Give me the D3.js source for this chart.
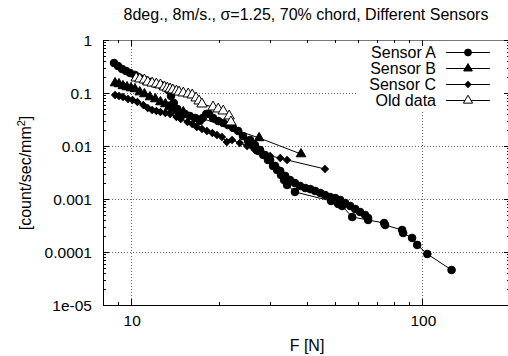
<!DOCTYPE html>
<html>
<head>
<meta charset="utf-8">
<script src="https://cdn.jsdelivr.net/npm/d3@7"></script>
<style>
  body { margin: 0; background: #fff; }
  text { font-family: "Liberation Sans", Arial, sans-serif; fill: #000; }
</style>
</head>
<body>
<div id="chart"></div>
<script>
// Data: [F in N, count/sec/mm^2]
var sensorA = [
  [8.73,0.368],[9.01,0.323],[9.30,0.284],[9.60,0.260],[9.91,0.238],[10.3,0.219],[10.7,0.192],
  [11.1,0.176],[11.6,0.161],[12.1,0.148],[12.6,0.142],[13.1,0.130],[13.4,0.114],[13.7,0.0878],
  [14.0,0.0648],[14.4,0.0499],[14.7,0.0420],[15.3,0.0402],[15.9,0.0368],[16.6,0.0338],[17.2,0.0296],
  [17.6,0.0338],[18.1,0.0402],[18.5,0.0402],[19.1,0.0338],[19.9,0.0296],[20.7,0.0272],[21.5,0.0249],
  [22.4,0.0219],[23.3,0.0192],[24.2,0.0154],[25.2,0.0124],[26.2,0.0100],[27.3,0.00805],[28.4,0.00677],
  [29.5,0.00545],[30.7,0.00420],[31.7,0.00353],[32.7,0.00284],[33.5,0.00228],[34.3,0.00184],
  [36.5,0.00136],[48.6,0.000917],[51.4,0.000805],[53.0,0.000738],[57.4,0.000457],[65.1,0.000402],
  [73.9,0.000352],[74.5,0.000323],[85.2,0.000260],[85.9,0.000228],[92.2,0.000184],[96.0,0.000136],
  [104,0.0000917],[126,0.0000457]
];
// second data block of sensor A (separate run, not joined to the first)
var sensorA2 = [
  [25.6,0.0130],[26.6,0.0104],[27.7,0.00841],[28.8,0.00677],[30.0,0.00545],[31.2,0.00420],
  [32.5,0.00338],[33.8,0.00272],[35.1,0.00228],[36.5,0.00200],[38.0,0.00176],[39.6,0.00161],
  [41.2,0.00154],[42.8,0.00142],[44.6,0.00130],[46.3,0.00119],[48.2,0.00109],[50.2,0.00104],
  [52.2,0.000957],[54.3,0.000841],[56.5,0.000738],[58.8,0.000648],[61.1,0.000569],[63.6,0.000499],
  [65.1,0.000438]
];
var sensorB = [
  [8.80,0.154],[9.08,0.148],[9.37,0.136],[9.67,0.130],[9.98,0.124],[10.3,0.119],[10.7,0.104],
  [11.1,0.0958],[11.6,0.0840],[12.1,0.0770],[12.6,0.0677],[13.1,0.0620],[13.5,0.0544],[13.9,0.0499],
  [14.4,0.0457],[15.1,0.0438],[27.5,0.0142],[38.3,0.00706]
];
var sensorC = [
  [8.80,0.0917],[9.08,0.0878],[9.37,0.0840],[9.75,0.0770],[10.1,0.0738],[10.5,0.0677],[11.0,0.0594],
  [11.4,0.0521],[11.8,0.0478],[12.2,0.0457],[12.6,0.0438],[13.1,0.0420],[13.6,0.0402],[14.3,0.0352],
  [14.8,0.0323],[15.6,0.0284],[16.2,0.0260],[16.8,0.0228],[17.5,0.0209],[18.2,0.0192],[19.0,0.0176],
  [19.7,0.0161],[20.5,0.0148],[21.3,0.0119],[22.2,0.0130],[23.6,0.0114],[25.0,0.0100],[26.6,0.00841],
  [28.2,0.00738],[30.0,0.00648],[32.5,0.00594],[34.3,0.00545],[46.3,0.00368]
];
var oldData = [
  [10.4,0.192],[10.7,0.184],[11.1,0.176],[11.4,0.161],[11.8,0.154],[12.2,0.148],[12.6,0.142],
  [13.0,0.130],[13.3,0.124],[13.6,0.119],[13.9,0.114],[14.3,0.109],[14.6,0.104],[15.1,0.100],
  [15.7,0.0958],[16.2,0.0917],[16.7,0.0805],[17.1,0.0706],[17.5,0.0620],[19.1,0.0544],[19.9,0.0499],
  [20.7,0.0457],[21.7,0.0368],[22.0,0.0284]
];

var seriesNames = ["Sensor A", "Sensor B", "Sensor C", "Old data"];
var xTickValues = [10, 100];
var yTickValues = [1, 0.1, 0.01, 0.001, 0.0001, 0.00001];
var yTickLabels = ["1", "0.1", "0.01", "0.001", "0.0001", "1e-05"];

var width = 508, height = 356;
var plot = {left: 103, right: 510, top: 40, bottom: 305};

var svg = d3.select("#chart").append("svg")
    .attr("width", width)
    .attr("height", height);

var x = d3.scaleLog().domain([8, 200]).range([plot.left, plot.right]);
var y = d3.scaleLog().domain([1e-5, 1]).range([plot.bottom, plot.top]);

// grid
var grid = svg.append("g")
    .attr("stroke", "#666")
    .attr("stroke-width", 1)
    .attr("stroke-dasharray", "1,2")
    .attr("shape-rendering", "crispEdges");
grid.selectAll(".gx").data(xTickValues).enter().append("line")
    .attr("x1", d => Math.round(x(d)) + 0.5).attr("x2", d => Math.round(x(d)) + 0.5)
    .attr("y1", plot.top).attr("y2", plot.bottom);
grid.selectAll(".gy").data(yTickValues.slice(1, -1)).enter().append("line")
    .attr("x1", plot.left).attr("x2", plot.right)
    .attr("y1", d => Math.round(y(d)) + 0.5).attr("y2", d => Math.round(y(d)) + 0.5);

// data
svg.append("clipPath").attr("id", "clip").append("rect")
    .attr("x", plot.left).attr("y", plot.top)
    .attr("width", plot.right - plot.left).attr("height", plot.bottom - plot.top);

var line = d3.line().x(d => x(d[0])).y(d => y(d[1]));
var dataG = svg.append("g").attr("clip-path", "url(#clip)");

// gnuplot style diamond = square turned 45 degrees
var styles = [
  {type: d3.symbolCircle, size: 46, fill: "#000", rot: 0},
  {type: d3.symbolTriangle, size: 40, fill: "#000", rot: 0},
  {type: d3.symbolSquare, size: 24, fill: "#000", rot: 45},
  {type: d3.symbolTriangle, size: 46, fill: "#fff", rot: 0}
];
var seriesList = [[sensorA, sensorA2], [sensorB], [sensorC], [oldData]];

seriesList.forEach(function(blocks, i) {
  var st = styles[i];
  blocks.forEach(function(data) {
    dataG.append("path")
        .datum(data)
        .attr("d", line)
        .attr("fill", "none")
        .attr("stroke", "#000")
        .attr("stroke-width", 1);
    dataG.selectAll(null).data(data).enter().append("path")
        .attr("transform", d => "translate(" + x(d[0]) + "," + y(d[1]) + ") rotate(" + st.rot + ")")
        .attr("d", d3.symbol().type(st.type).size(st.size))
        .attr("fill", st.fill)
        .attr("stroke", "#000")
        .attr("stroke-width", 1);
  });
});

// key
svg.append("rect")
    .attr("x", 358).attr("y", plot.top + 1)
    .attr("width", 160).attr("height", 69)
    .attr("fill", "#fff");
var key = svg.append("g");
seriesNames.forEach(function(name, i) {
  var cy = 52.5 + i * 16;
  key.append("text")
      .attr("x", 436).attr("y", cy)
      .attr("dy", "0.36em")
      .attr("text-anchor", "end")
      .style("font-size", "16px")
      .text(name);
  key.append("line")
      .attr("x1", 446).attr("x2", 490)
      .attr("y1", cy).attr("y2", cy)
      .attr("stroke", "#000");
  key.append("path")
      .attr("transform", "translate(468," + cy + ") rotate(" + styles[i].rot + ")")
      .attr("d", d3.symbol().type(styles[i].type).size(styles[i].size * 0.8))
      .attr("fill", styles[i].fill)
      .attr("stroke", "#000");
});

// border
var border = svg.append("g").attr("shape-rendering", "crispEdges");
border.append("line").attr("x1", plot.left).attr("x2", plot.right)
    .attr("y1", plot.top + 0.5).attr("y2", plot.top + 0.5).attr("stroke", "#777");
border.append("line").attr("x1", plot.left).attr("x2", plot.right)
    .attr("y1", plot.bottom + 0.5).attr("y2", plot.bottom + 0.5).attr("stroke", "#000");
border.append("line").attr("x1", plot.left + 0.5).attr("x2", plot.left + 0.5)
    .attr("y1", plot.top).attr("y2", plot.bottom + 1).attr("stroke", "#000");

// ticks (inside, mirrored)
var xMinor = [], yMinor = [];
[1, 10, 100].forEach(function(dec) {
  for (var k = 2; k <= 9; k++) {
    var v = dec * k;
    if (v > 8 && v < 200) xMinor.push(v);
  }
});
[1e-5, 1e-4, 1e-3, 1e-2, 1e-1].forEach(function(dec) {
  for (var k = 2; k <= 9; k++) yMinor.push(dec * k);
});

function xTicks(vals, len) {
  vals.forEach(function(v) {
    var px = Math.round(x(v)) + 0.5;
    border.append("line").attr("x1", px).attr("x2", px)
        .attr("y1", plot.bottom).attr("y2", plot.bottom - len).attr("stroke", "#000");
    border.append("line").attr("x1", px).attr("x2", px)
        .attr("y1", plot.top).attr("y2", plot.top + len).attr("stroke", "#000");
  });
}
function yTicks(vals, len) {
  vals.forEach(function(v) {
    var py = Math.round(y(v)) + 0.5;
    border.append("line").attr("x1", plot.left).attr("x2", plot.left + len)
        .attr("y1", py).attr("y2", py).attr("stroke", "#000");
    border.append("line").attr("x1", plot.right).attr("x2", plot.right - len)
        .attr("y1", py).attr("y2", py).attr("stroke", "#000");
  });
}
xTicks(xTickValues, 6);
xTicks(xMinor, 3);
yTicks(yTickValues, 6);
yTicks(yMinor, 3);

// tick labels
svg.append("g").selectAll("text").data(xTickValues).enter().append("text")
    .attr("x", d => x(d) + 1)
    .attr("y", 326)
    .attr("text-anchor", "middle")
    .style("font-size", "15.5px")
    .text(d => d);
svg.append("g").selectAll("text").data(yTickValues).enter().append("text")
    .attr("x", 92)
    .attr("y", d => y(d))
    .attr("dy", "0.36em")
    .attr("text-anchor", "end")
    .style("font-size", "15.5px")
    .text((d, i) => yTickLabels[i]);

// titles
svg.append("text")
    .attr("x", 306).attr("y", 20)
    .attr("text-anchor", "middle")
    .style("font-size", "16px")
    .text("8deg., 8m/s., \u03c3=1.25, 70% chord, Different Sensors");
svg.append("text")
    .attr("x", 307).attr("y", 351)
    .attr("text-anchor", "middle")
    .style("font-size", "16px")
    .text("F [N]");
var yl = svg.append("text")
    .attr("transform", "translate(31,173) rotate(-90)")
    .attr("text-anchor", "middle")
    .style("font-size", "16px");
yl.append("tspan").text("[count/sec/mm");
yl.append("tspan").attr("dy", "-6").style("font-size", "11px").text("2");
yl.append("tspan").attr("dy", "6").text("]");
</script>
</body>
</html>
